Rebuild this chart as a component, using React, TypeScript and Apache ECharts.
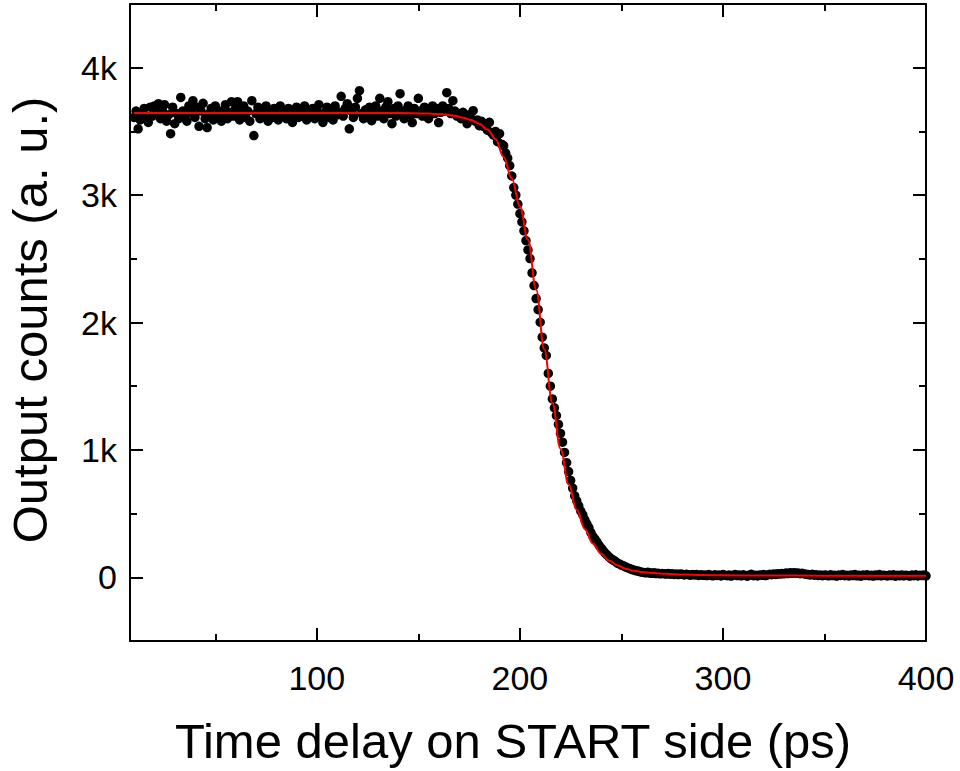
import React, { useEffect, useRef } from "react";
import * as echarts from "echarts";

// Sampling grid of the measured delays (ps)
const delayStart = 10;
const delayStep = 1;

// Measured output counts, plateau region (10..170 ps)
const plateauCounts = [
  3610, 3660, 3520, 3590, 3640, 3680, 3600, 3570, 3690, 3620,
  3700, 3650, 3718, 3600, 3660, 3710, 3580, 3630, 3482, 3690,
  3561, 3640, 3600, 3767, 3660, 3620, 3580, 3700, 3650, 3741,
  3610, 3690, 3540, 3660, 3720, 3600, 3530, 3640, 3680, 3590,
  3700, 3620, 3660, 3580, 3640, 3710, 3600, 3650, 3733, 3620,
  3680, 3733, 3590, 3650, 3700, 3610, 3660, 3580, 3741, 3467,
  3640, 3690, 3600, 3660, 3620, 3700, 3580, 3650, 3610, 3680,
  3640, 3590, 3700, 3630, 3660, 3600, 3680, 3620, 3570, 3650,
  3690, 3610, 3660, 3640, 3700, 3590, 3650, 3620, 3680, 3600,
  3660, 3710, 3620, 3570, 3650, 3690, 3610, 3660, 3590, 3700,
  3630, 3650, 3775, 3620, 3680, 3718, 3520, 3660, 3610, 3690,
  3760, 3820, 3640, 3600, 3670, 3630, 3690, 3584, 3650, 3700,
  3620, 3760, 3660, 3600, 3690, 3733, 3640, 3561, 3680, 3620,
  3700, 3796, 3650, 3600, 3670, 3700, 3630, 3569, 3680, 3640,
  3760, 3660, 3620, 3690, 3650, 3600, 3670, 3700, 3640, 3680,
  3569, 3650, 3700, 3660, 3804, 3680, 3640, 3741, 3660, 3620,
  3640,
];

// Measured output counts, falling edge (171..260 ps)
const edgeCounts = [
  3600, 3650, 3620, 3561, 3630, 3600, 3663, 3580, 3590, 3545,
  3580, 3540, 3560, 3510, 3571, 3490, 3470, 3500, 3420, 3482,
  3400, 3388, 3330, 3290, 3231, 3150, 3059, 3000, 2930, 2855,
  2790, 2720, 2643, 2570, 2502, 2390, 2290, 2188, 2101, 2002,
  1885, 1800, 1741, 1600, 1500, 1400, 1330, 1270, 1200, 1129,
  1061, 980, 900, 830, 760, 700, 640, 600, 560, 520,
  490, 450, 420, 390, 350, 320, 300, 277, 250, 230,
  210, 190, 175, 159, 145, 135, 125, 112, 105, 96,
  90, 82, 75, 70, 62, 58, 52, 50, 45, 40,
];

// Measured output counts, tail (261..400 ps)
const tailCounts = [
  38, 35, 40, 33, 31, 36, 29, 32, 27, 30,
  28, 25, 30, 24, 27, 22, 26, 21, 25, 23,
  19, 24, 20, 17, 22, 18, 21, 15, 20, 16,
  19, 14, 22, 17, 12, 20, 15, 18, 11, 21,
  16, 13, 19, 10, 17, 22, 14, 18, 12, 20,
  15, 9, 18, 23, 13, 17, 11, 19, 16, 21,
  14, 18, 24, 20, 26, 22, 28, 25, 30, 27,
  33, 29, 35, 31, 36, 32, 34, 28, 31, 26,
  24, 21, 19, 23, 17, 20, 15, 18, 13, 19,
  16, 12, 20, 14, 17, 10, 18, 15, 21, 13,
  16, 11, 19, 14, 22, 12, 17, 9, 18, 15,
  20, 13, 16, 10, 19, 14, 21, 12, 17, 15,
  11, 18, 14, 20, 9, 16, 13, 19, 12, 17,
  15, 10, 18, 13, 20, 11, 16, 14, 19, 12,
];

// Fit curve (red)
const fitDelay = [10, 50, 100, 140, 155, 162, 168, 172, 176, 180, 184, 188, 192, 196, 200, 204, 208, 212, 216, 220, 224, 228, 232, 236, 240, 244, 248, 252, 256, 260, 266, 272, 280, 290, 300, 320, 350, 400];
const fitCounts = [3645, 3645, 3645, 3644, 3640, 3635, 3622, 3608, 3590, 3560, 3515, 3440, 3300, 3130, 2910, 2650, 2260, 1790, 1370, 1010, 730, 530, 380, 265, 185, 130, 95, 68, 52, 42, 33, 27, 22, 18, 16, 14, 13, 12];

// Axis ticks
const xMajorTicks = [100, 200, 300, 400];
const xMinorTicks = [50, 150, 250, 350];
const yMajorTicks = [0, 1000, 2000, 3000, 4000];
const yMinorTicks = [-500, 500, 1500, 2500, 3500, 4500];

const X_MIN = 8;
const X_MAX = 400;
const Y_MIN = -500;
const Y_MAX = 4500;

const FONT = '"Liberation Sans", Arial, sans-serif';

export default function App() {
  const ref = useRef<HTMLDivElement>(null);

  useEffect(() => {
    if (!ref.current) return;
    const chart = echarts.init(ref.current, undefined, { renderer: "svg" });

    const counts = [...plateauCounts, ...edgeCounts, ...tailCounts];
    const scatterData = counts.map((c, i) => [delayStart + i * delayStep, c]);
    const fitData = fitDelay.map((d, i) => [d, fitCounts[i]]);

    const line = { show: true, onZero: false, lineStyle: { color: "#000", width: 2 } };
    const noLine = { show: false, onZero: false };
    const tickStyle = { color: "#000", width: 2 };

    const mkX = (position: string, major: boolean, showLine: boolean, labels: boolean) => ({
      type: "value",
      min: X_MIN,
      max: X_MAX,
      position,
      axisLine: showLine ? line : noLine,
      splitLine: { show: false },
      axisTick: {
        show: true,
        inside: true,
        length: major ? 13 : 7,
        lineStyle: tickStyle,
        customValues: major ? xMajorTicks : xMinorTicks,
      },
      axisLabel: labels
        ? {
            show: true,
            customValues: xMajorTicks,
            fontSize: 34,
            fontFamily: FONT,
            color: "#000",
            margin: 20,
          }
        : { show: false },
    });

    const mkY = (position: string, major: boolean, showLine: boolean, labels: boolean) => ({
      type: "value",
      min: Y_MIN,
      max: Y_MAX,
      position,
      axisLine: showLine ? line : noLine,
      splitLine: { show: false },
      axisTick: {
        show: true,
        inside: true,
        length: major ? 13 : 7,
        lineStyle: tickStyle,
        customValues: major ? yMajorTicks : yMinorTicks,
      },
      axisLabel: labels
        ? {
            show: true,
            customValues: yMajorTicks,
            fontSize: 34,
            fontFamily: FONT,
            color: "#000",
            margin: 13,
            formatter: (v: number) => (v === 0 ? "0" : v / 1000 + "k"),
          }
        : { show: false },
    });

    chart.setOption({
      animation: false,
      backgroundColor: "#fff",
      grid: { left: 130, right: 34, top: 4, bottom: 130, containLabel: false },
      xAxis: [
        mkX("bottom", true, true, true),
        mkX("bottom", false, false, false),
        mkX("top", true, true, false),
        mkX("top", false, false, false),
      ],
      yAxis: [
        mkY("left", true, true, true),
        mkY("left", false, false, false),
        mkY("right", true, true, false),
        mkY("right", false, false, false),
      ],
      series: [
        {
          type: "scatter",
          xAxisIndex: 0,
          yAxisIndex: 0,
          data: scatterData,
          symbol: "circle",
          symbolSize: 9.5,
          itemStyle: { color: "#000", opacity: 1 },
          silent: true,
          z: 2,
        },
        {
          type: "line",
          xAxisIndex: 0,
          yAxisIndex: 0,
          data: fitData,
          showSymbol: false,
          smooth: 0.4,
          smoothMonotone: "x",
          lineStyle: { color: "#ff0000", width: 2 },
          silent: true,
          z: 3,
        },
      ],
      graphic: [
        {
          type: "text",
          x: 513,
          y: 741,
          style: {
            text: "Time delay on START side (ps)",
            fontSize: 49,
            lineHeight: 52,
            fontFamily: FONT,
            fill: "#000",
            align: "center",
            verticalAlign: "middle",
          },
        },
        {
          type: "text",
          x: 30,
          y: 320,
          rotation: Math.PI / 2,
          style: {
            text: "Output counts (a. u.)",
            fontSize: 49,
            lineHeight: 52,
            fontFamily: FONT,
            fill: "#000",
            align: "center",
            verticalAlign: "middle",
          },
        },
      ],
    });

    return () => chart.dispose();
  }, []);

  return (
    <div
      ref={ref}
      style={{ position: "fixed", left: 0, top: 0, width: 960, height: 771, background: "#fff" }}
    />
  );
}
